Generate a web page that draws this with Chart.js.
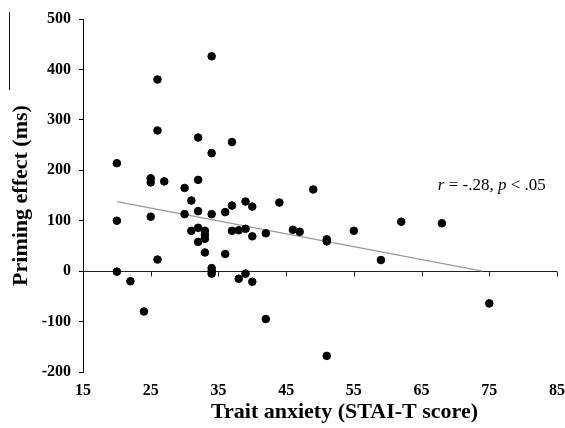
<!DOCTYPE html>
<html><head><meta charset="utf-8">
<script src="https://cdn.jsdelivr.net/npm/chart.js@4/dist/chart.umd.min.js"></script>
<style>html,body{margin:0;padding:0;background:#fff}</style>
</head><body>
<canvas id="c" width="565" height="428"></canvas>
<script>
// ---- data ----
const anxiety = [20,20,20,22,24,25,25,25,26,26,26,27,30,30,31,31,32,32,32,32,32,33,33,33,33,34,34,34,34,34,34,36,36,37,37,37,38,38,39,39,39,40,40,40,42,42,44,46,47,49,51,51,51,55,59,62,68,75];
const priming = [214,100,-1,-20,-80,184,176,108,380,279,23,178,165,113,140,80,265,181,119,86,58,80,72,64,37,426,234,113,6,0,-5,117,34,256,130,80,81,-15,138,84,-5,128,69,-21,75,-95,136,82,78,162,63,59,-168,80,22,98,95,-64];
const fitX = [20, 74];
const fitY = [138, 0];
const xTickValues = [15,25,35,45,55,65,75,85];
const yTickValues = [-200,-100,0,100,200,300,400,500];
const xTitle = 'Trait anxiety (STAI-T score)';
const yTitle = 'Priming effect (ms)';
const statParts = [['r', true], [' = -.28, ', false], ['p', true], [' < .05', false]];
const statAt = [67.4, 160];

const SERIF = "'Liberation Serif', 'Times New Roman', serif";
Chart.defaults.font.family = SERIF;
Chart.defaults.color = '#000';

const points = anxiety.map((v, i) => ({x: v, y: priming[i]}));
const fit = fitX.map((v, i) => ({x: v, y: fitY[i]}));

const decor = {
  id: 'decor',
  beforeDatasetsDraw(chart) {
    const {ctx, scales: {x, y}} = chart;
    const y0 = Math.round(y.getPixelForValue(0)) + 0.5;
    ctx.save();
    ctx.strokeStyle = '#222';
    ctx.lineWidth = 1;
    ctx.beginPath();
    ctx.moveTo(x.left, y0); ctx.lineTo(x.right, y0);
    xTickValues.slice(1).forEach(v => {
      const px = Math.round(x.getPixelForValue(v)) + 0.5;
      ctx.moveTo(px, y0); ctx.lineTo(px, y0 + 5);
    });
    ctx.stroke();
    ctx.restore();
  },
  afterDraw(chart) {
    const {ctx, scales: {x, y}} = chart;
    ctx.save();
    // statistic annotation
    let px = x.getPixelForValue(statAt[0]);
    const py = y.getPixelForValue(statAt[1]);
    ctx.fillStyle = '#000';
    ctx.textBaseline = 'alphabetic';
    ctx.textAlign = 'left';
    statParts.forEach(([t, it]) => {
      ctx.font = (it ? 'italic ' : '') + '17px ' + SERIF;
      ctx.fillText(t, px, py);
      px += ctx.measureText(t).width;
    });
    // x axis title
    ctx.font = 'bold 22px ' + SERIF;
    ctx.textAlign = 'center';
    ctx.fillText(xTitle, 344.5, 418);
    // scan artifact at top-left
    ctx.strokeStyle = '#111';
    ctx.lineWidth = 1;
    ctx.beginPath();
    ctx.moveTo(9.5, 12); ctx.lineTo(9.5, 90);
    ctx.stroke();
    ctx.restore();
  }
};

new Chart(document.getElementById('c'), {
  type: 'scatter',
  data: {
    datasets: [
      {
        type: 'scatter',
        data: points,
        backgroundColor: '#000',
        borderColor: '#000',
        pointRadius: 3.8,
        pointHoverRadius: 3.8,
        order: 1
      },
      {
        type: 'line',
        data: fit,
        borderColor: '#9a9a9a',
        borderWidth: 1.3,
        pointRadius: 0,
        fill: false,
        order: 2
      }
    ]
  },
  options: {
    responsive: false,
    animation: false,
    layout: {padding: {top: 19, right: 8, left: 0, bottom: 0}},
    plugins: {legend: {display: false}, tooltip: {enabled: false}},
    scales: {
      x: {
        type: 'linear',
        position: 'bottom',
        min: 15, max: 85,
        afterBuildTicks: s => { s.ticks = xTickValues.map(v => ({value: v})); },
        ticks: {font: {size: 16, weight: 'bold'}, color: '#000', padding: 1, maxRotation: 0},
        grid: {display: false},
        border: {display: false},
        afterFit: s => { s.height = 56; s.paddingRight = 8; s.paddingLeft = 0; }
      },
      y: {
        min: -200, max: 500,
        afterBuildTicks: s => { s.ticks = yTickValues.map(v => ({value: v})); },
        ticks: {font: {size: 16, weight: 'bold'}, color: '#000', padding: 8},
        grid: {drawOnChartArea: false, tickLength: 4, color: '#000', tickColor: '#000'},
        border: {display: true, color: '#000', width: 1},
        title: {display: true, text: yTitle, font: {size: 22, weight: 'bold'}, color: '#000', padding: {top: 8, bottom: 0}},
        afterFit: s => { s.width = 83; }
      }
    }
  },
  plugins: [decor]
});
</script>
</body></html>
